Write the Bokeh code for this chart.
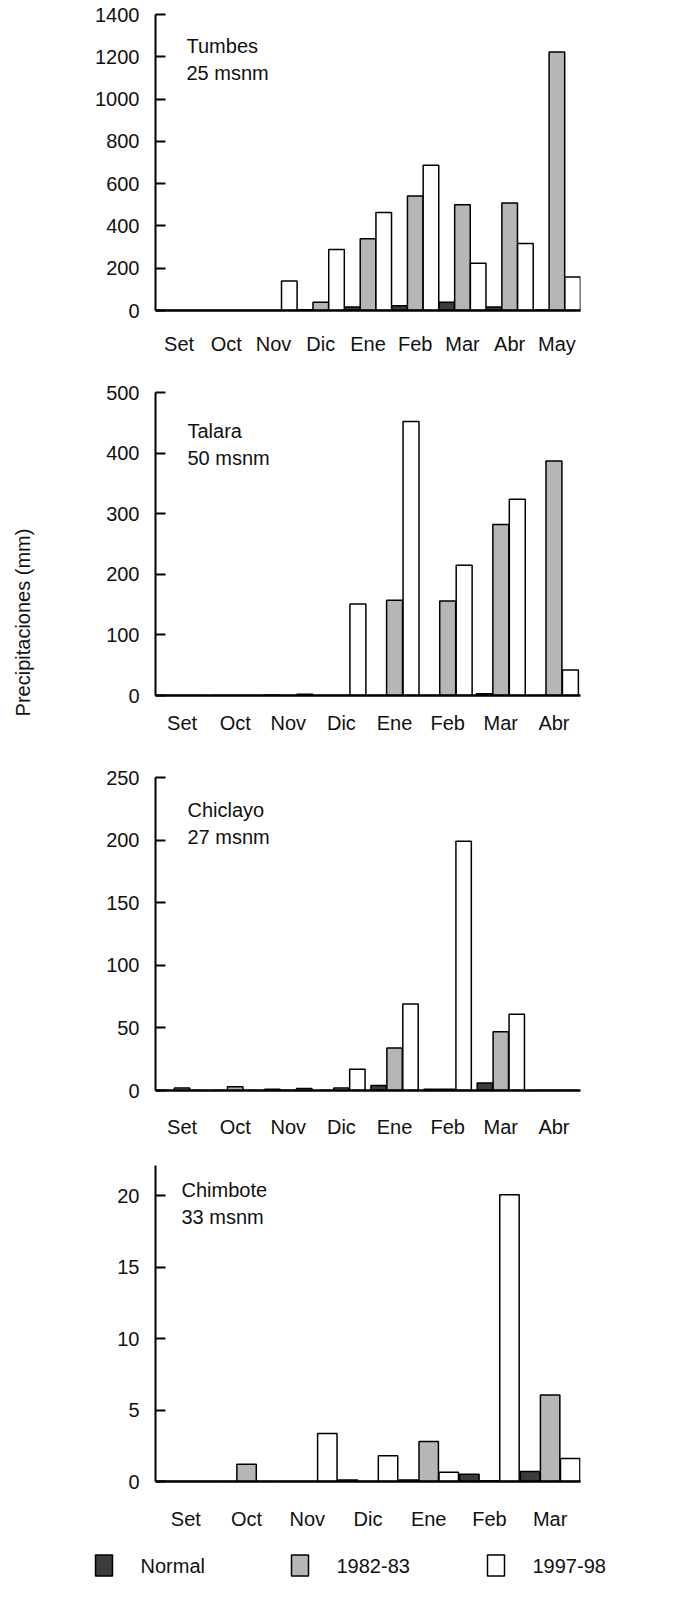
from math import pi
from bokeh.plotting import figure
from bokeh.models import (FactorRange, Range1d, Label, ColumnDataSource,
                          FixedTicker)
from bokeh.transform import dodge
from bokeh.layouts import column, row
from bokeh.embed import file_html
from bokeh.resources import INLINE
from bokeh.core.properties import value

FONT = "Liberation Sans"
FS = "20px"

series = ["Normal", "1982-83", "1997-98"]
colors = ["#3c3c3c", "#b6b6b6", "#ffffff"]
y_title = "Precipitaciones (mm)"

# Tumbes 25 msnm
tumbes_months = ["Set", "Oct", "Nov", "Dic", "Ene", "Feb", "Mar", "Abr", "May"]
tumbes_normal = [0, 0, 0, 4, 16, 23, 39, 16, 2]
tumbes_8283 = [0, 0, 0, 39, 339, 542, 500, 508, 1223]
tumbes_9798 = [0, 0, 140, 289, 464, 687, 223, 317, 159]
tumbes_ticks = [0, 200, 400, 600, 800, 1000, 1200, 1400]

# Talara 50 msnm
talara_months = ["Set", "Oct", "Nov", "Dic", "Ene", "Feb", "Mar", "Abr"]
talara_normal = [0, 0, 1, 0, 0, 0, 3, 0]
talara_8283 = [0, 0, 0, 0, 157, 156, 282, 387]
talara_9798 = [0, 0, 2, 151, 452, 215, 324, 42]
talara_ticks = [0, 100, 200, 300, 400, 500]

# Chiclayo 27 msnm
chiclayo_months = ["Set", "Oct", "Nov", "Dic", "Ene", "Feb", "Mar", "Abr"]
chiclayo_normal = [0, 0, 1, 0, 4, 1, 6, 0]
chiclayo_8283 = [2, 3, 0, 2, 34, 1, 47, 0]
chiclayo_9798 = [0, 0, 1.5, 17, 69, 199, 61, 0]
chiclayo_ticks = [0, 50, 100, 150, 200, 250]

# Chimbote 33 msnm
chimbote_months = ["Set", "Oct", "Nov", "Dic", "Ene", "Feb", "Mar"]
chimbote_normal = [0, 0, 0, 0.1, 0.1, 0.5, 0.7]
chimbote_8283 = [0, 1.2, 0, 0, 2.8, 0.05, 6.05]
chimbote_9798 = [0, 0, 3.35, 1.8, 0.65, 20.05, 1.6]
chimbote_ticks = [0, 5, 10, 15, 20]

FULL_W = 669
TITLE_W = 50
W = FULL_W - TITLE_W


def bare_figure(width, height, xr, yr):
    f = figure(width=width, height=height, x_range=xr, y_range=yr,
               output_backend="svg", toolbar_location=None,
               min_border_left=0, min_border_right=0, min_border_top=0,
               min_border_bottom=0, x_axis_location=None, y_axis_location=None)
    f.outline_line_color = None
    f.xgrid.visible = False
    f.ygrid.visible = False
    for g in f.grid:
        g.visible = False
    return f


def make_panel(months, normal, n82, n97, y_end, ticks, station, altitude,
               height, b_top, b_bottom, b_left, b_right, x_standoff,
               bar_w, step, lab_x, lab_y):
    src = ColumnDataSource(dict(month=months, normal=normal, n82=n82, n97=n97))
    p = figure(width=W, height=height,
               x_range=FactorRange(factors=months, range_padding=0),
               y_range=Range1d(0, y_end),
               output_backend="svg", toolbar_location=None,
               min_border_top=b_top, min_border_bottom=b_bottom,
               min_border_left=b_left, min_border_right=b_right)
    for col, off, c in zip(["normal", "n82", "n97"], [-step, 0, step], colors):
        p.vbar(x=dodge("month", off, range=p.x_range), top=col, width=bar_w,
               source=src, fill_color=c, line_color="black", line_width=1.5)
    p.xgrid.visible = False
    p.ygrid.visible = False
    p.outline_line_color = None
    ya = p.yaxis[0]
    ya.ticker = FixedTicker(ticks=ticks)
    ya.major_tick_in = 10
    ya.major_tick_out = 0
    ya.minor_tick_line_color = None
    ya.axis_line_width = 2
    ya.axis_line_color = "black"
    ya.major_tick_line_width = 2
    ya.major_label_standoff = 16
    ya.major_label_text_font = FONT
    ya.major_label_text_font_size = FS
    ya.major_label_text_color = "#111111"
    xa = p.xaxis[0]
    xa.major_tick_line_color = None
    xa.minor_tick_line_color = None
    xa.axis_line_width = 2.5
    xa.axis_line_color = "black"
    xa.major_label_standoff = x_standoff
    xa.major_label_text_font = FONT
    xa.major_label_text_font_size = FS
    xa.major_label_text_color = "#111111"
    for txt, yy in ((station, lab_y), (altitude, lab_y - 27)):
        p.add_layout(Label(x=lab_x, y=yy, x_units="screen", y_units="screen",
                           text=txt, text_font=FONT, text_font_size=FS,
                           text_color="#111111", text_baseline="middle"))
    return p


p1 = make_panel(tumbes_months, tumbes_normal, tumbes_8283, tumbes_9798, 1400,
                tumbes_ticks, "Tumbes", "25 msnm",
                357, 14, 43, 155 - TITLE_W, 89, 16, 0.33, 1 / 3, 31, 265)
p2 = make_panel(talara_months, talara_normal, talara_8283, talara_9798, 500,
                talara_ticks, "Talara", "50 msnm",
                380, 35, 42, 151 - TITLE_W, 73, 10, 0.3, 0.31, 32, 265)
p3 = make_panel(chiclayo_months, chiclayo_normal, chiclayo_8283, chiclayo_9798, 250,
                chiclayo_ticks, "Chiclayo", "27 msnm",
                403, 40, 48, 151 - TITLE_W, 80, 19, 0.29, 0.3, 32, 281)
p4 = make_panel(chimbote_months, chimbote_normal, chimbote_8283, chimbote_9798, 22.1,
                chimbote_ticks, "Chimbote", "33 msnm",
                397, 25, 56, 149 - TITLE_W, 74, 20, 0.32, 0.33, 26, 292)

panels_h = 357 + 380 + 403 + 397

# strip holding the shared y-axis title
tf = bare_figure(TITLE_W, panels_h, Range1d(0, TITLE_W), Range1d(0, panels_h))
tf.text(x=[22], y=[panels_h - 622], text=[y_title], angle=pi / 2,
        text_align="center", text_baseline="middle",
        text_font=value(FONT), text_font_size=value(FS), text_color="#111111")

# legend strip (key swatches + labels), laid out in pixel units
LEG_H = 55
lf = bare_figure(FULL_W, LEG_H, Range1d(0, FULL_W), Range1d(0, LEG_H))
key_left = [95 + 196 * i for i in range(len(series))]
leg = ColumnDataSource(dict(
    x=[k + 8.5 for k in key_left],
    tx=[k + 45 for k in key_left],
    label=series, color=colors))
lf.rect(x="x", y=27, width=17, height=21, source=leg, fill_color="color",
        line_color="black", line_width=1.5)
lf.text(x="tx", y=27, text="label", source=leg, text_baseline="middle",
        text_font=value(FONT), text_font_size=value(FS), text_color="#111111")

layout = column(row(tf, column(p1, p2, p3, p4, spacing=0), spacing=0), lf,
                spacing=0)
open("out.html", "w").write(file_html(layout, INLINE))
